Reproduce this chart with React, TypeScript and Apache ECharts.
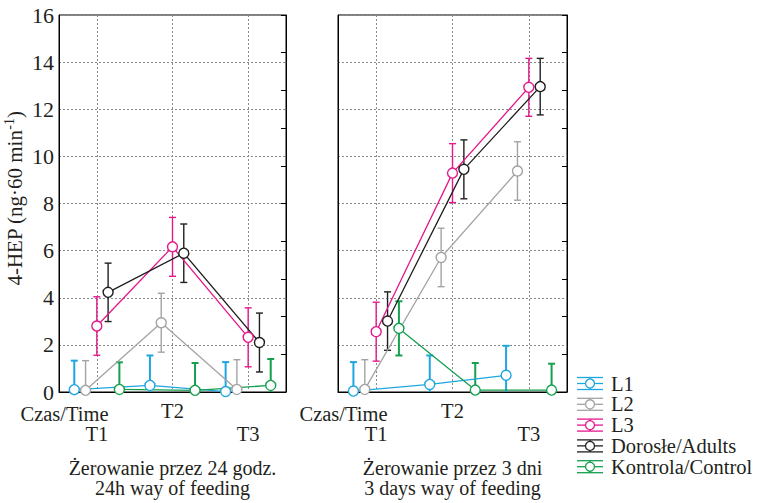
import React, { useEffect, useRef } from 'react';
import * as echarts from 'echarts';

// ---------- data ----------
const timeLabels = ['T1', 'T2', 'T3'];
const seriesNames = ['L1', 'L2', 'L3', 'Dorosłe/Adults', 'Kontrola/Control'];
const panelTitles = ['Żerowanie przez 24 godz.\n24h way of feeding', 'Żerowanie przez 3 dni\n3 days way of feeding'];
const timeAxisName = 'Czas/Time';
const yTitle = '4-HEP (ng·60 min{sup|-1})';

// 24 h feeding: means and error (half-length of the bars)
const h24L1 = [0.1, 0.28, 0.02];
const h24L1Err = [1.23, 1.27, 1.25];
const h24L2 = [0.07, 2.94, 0.11];
const h24L2Err = [1.26, 1.25, 1.26];
const h24L3 = [2.8, 6.16, 2.32];
const h24L3Err = [1.24, 1.25, 1.25];
const h24Adults = [4.23, 5.89, 2.1];
const h24AdultsErr = [1.24, 1.24, 1.25];
const h24Control = [0.11, 0.07, 0.28];
const h24ControlErr = [1.15, 1.16, 1.12];

// 3 days feeding
const d3L1 = [0.04, 0.32, 0.71];
const d3L1Err = [1.23, 1.23, 1.25];
const d3L2 = [0.11, 5.71, 9.38];
const d3L2Err = [1.26, 1.24, 1.24];
const d3L3 = [2.56, 9.29, 12.93];
const d3L3Err = [1.25, 1.25, 1.23];
const d3Adults = [3.01, 9.45, 12.96];
const d3AdultsErr = [1.24, 1.25, 1.2];
const d3Control = [2.7, 0.08, 0.08];
const d3ControlErr = [1.15, 1.15, 1.12];

// ---------- style ----------
const seriesColors = ['#1ea6e0', '#a3a3a3', '#e5178b', '#1f1f1f', '#14a04e'];
const barWidths = [2, 1.4, 1.4, 1.4, 2];
const FONT = 'Liberation Serif, Times New Roman, serif';
const TEXT = '#231f20';
const OFFSET = 0.149; // per-series horizontal dodge in category units

const grids = [
  { left: 59, top: 15, width: 227, height: 381 },
  { left: 338, top: 15, width: 229, height: 381 },
];

const panelValues = [
  [h24L1, h24L2, h24L3, h24Adults, h24Control],
  [d3L1, d3L2, d3L3, d3Adults, d3Control],
];
const panelErrs = [
  [h24L1Err, h24L2Err, h24L3Err, h24AdultsErr, h24ControlErr],
  [d3L1Err, d3L2Err, d3L3Err, d3AdultsErr, d3ControlErr],
];

function buildOption() {
  const gridLine = { show: true, lineStyle: { color: '#8a8a8a', type: [2, 2] as any, width: 1 } };
  const labelStyle = { fontSize: 20.5, fontFamily: FONT, color: TEXT };
  const xAxis: any[] = [];
  const yAxis: any[] = [];
  const series: any[] = [];
  const graphic: any[] = [];

  grids.forEach((g, p) => {
    // first label row (T2) + grid lines + panel title
    xAxis.push({
      type: 'category',
      gridIndex: p,
      position: 'bottom',
      data: timeLabels,
      boundaryGap: true,
      axisLine: { show: true, onZero: false, lineStyle: { color: '#000', width: 1 } },
      axisTick: { show: false },
      splitLine: { ...gridLine, alignWithLabel: true },
      axisLabel: {
        ...labelStyle,
        interval: 0,
        margin: 8,
        formatter: (v: string, i: number) => (i % 2 === 1 ? v : ''),
      },
      name: panelTitles[p],
      nameLocation: 'middle',
      nameGap: 66,
      nameTextStyle: { fontSize: 20, lineHeight: 20, fontFamily: FONT, color: TEXT },
    });
    // second label row (T1, T3)
    xAxis.push({
      type: 'category',
      gridIndex: p,
      position: 'bottom',
      offset: 0,
      data: timeLabels,
      boundaryGap: true,
      axisLine: { show: false, onZero: false },
      axisTick: { show: false },
      splitLine: { show: false },
      axisLabel: {
        ...labelStyle,
        interval: 0,
        margin: 31.5,
        formatter: (v: string, i: number) => (i % 2 === 0 ? v : ''),
      },
    });
    // hidden numeric axis used to place the dodged marks
    xAxis.push({ type: 'value', gridIndex: p, min: -0.5, max: 2.5, show: false, axisLine: { onZero: false } });

    yAxis.push({
      type: 'value',
      gridIndex: p,
      position: 'left',
      min: 0,
      max: 16,
      interval: 2,
      axisLine: { show: true, onZero: false, lineStyle: { color: '#000', width: 1 } },
      axisTick: { show: false },
      axisLabel: { show: p === 0, margin: 5, fontSize: 22, fontFamily: FONT, color: TEXT },
      splitLine: gridLine,
      ...(p === 0
        ? {
            name: yTitle,
            nameLocation: 'middle',
            nameRotate: 90,
            nameGap: 22,
            nameTextStyle: {
              fontSize: 21,
              lineHeight: 26,
              fontFamily: FONT,
              color: TEXT,
              padding: [0, 0, 0, 10],
              rich: { sup: { fontSize: 14, verticalAlign: 'top', lineHeight: 14, fontFamily: FONT, color: TEXT } },
            },
          }
        : {}),
    });
    yAxis.push({
      type: 'value',
      gridIndex: p,
      position: 'right',
      min: 0,
      max: 10,
      interval: 1,
      axisLine: { show: true, onZero: false, lineStyle: { color: '#000', width: 1 } },
      axisTick: { show: true, inside: true, length: 5, lineStyle: { color: '#000', width: 1 } },
      axisLabel: { show: false },
      splitLine: { show: false },
    });

    seriesNames.forEach((name, k) => {
      const color = seriesColors[k];
      const vals = panelValues[p][k];
      const errs = panelErrs[p][k];
      const data = timeLabels.map((_, i) => [i + (k - 2) * OFFSET, vals[i], errs[i]]);
      series.push({
        type: 'custom',
        name,
        xAxisIndex: p * 3 + 2,
        yAxisIndex: p * 2,
        clip: true,
        z: 2,
        encode: { x: 0, y: 1 },
        data,
        renderItem: (params: any, api: any) => {
          const x = api.value(0);
          const v = api.value(1);
          const e = api.value(2);
          const top = api.coord([x, v + e]);
          const bot = api.coord([x, v - e]);
          const hw = 3.5;
          const style = { stroke: color, lineWidth: barWidths[k] };
          return {
            type: 'group',
            children: [
              { type: 'line', shape: { x1: top[0], y1: top[1], x2: bot[0], y2: bot[1] }, style },
              { type: 'line', shape: { x1: top[0] - hw, y1: top[1], x2: top[0] + hw, y2: top[1] }, style },
              { type: 'line', shape: { x1: bot[0] - hw, y1: bot[1], x2: bot[0] + hw, y2: bot[1] }, style },
            ],
          };
        },
      });
      series.push({
        type: 'line',
        name,
        xAxisIndex: p * 3 + 2,
        yAxisIndex: p * 2,
        z: 3,
        data: data.map((d) => [d[0], d[1]]),
        symbol: 'circle',
        symbolSize: 10,
        showAllSymbol: true,
        lineStyle: { color, width: 1.3 },
        itemStyle: { color: '#fff', borderColor: color, borderWidth: 1.4 },
      });
    });

    graphic.push({
      type: 'text',
      x: g.left + 5.5,
      y: g.top + g.height + 18,
      style: { text: timeAxisName, fontSize: 20.5, fontFamily: FONT, fill: TEXT, align: 'center', verticalAlign: 'middle' },
    });
  });

  // legend
  const lx = 590;
  const ly0 = 383.5;
  const step = 20.8;
  seriesNames.forEach((name, k) => {
    const color = seriesColors[k];
    const cy = ly0 + k * step;
    const st = { stroke: color, lineWidth: 1.3 };
    graphic.push(
      { type: 'line', shape: { x1: lx - 13, y1: cy - 6, x2: lx + 13, y2: cy - 6 }, style: st },
      { type: 'line', shape: { x1: lx - 13, y1: cy + 6, x2: lx + 13, y2: cy + 6 }, style: st },
      { type: 'line', shape: { x1: lx - 13, y1: cy, x2: lx + 13, y2: cy }, style: st },
      { type: 'line', shape: { x1: lx, y1: cy - 6, x2: lx, y2: cy + 6 }, style: st },
      { type: 'circle', shape: { cx: lx, cy, r: 4.5 }, style: { fill: '#fff', stroke: color, lineWidth: 1.3 } },
      {
        type: 'text',
        x: 611,
        y: cy,
        style: { text: name, fontSize: 20.5, fontFamily: FONT, fill: TEXT, align: 'left', verticalAlign: 'middle' },
      }
    );
  });

  return {
    animation: false,
    backgroundColor: '#fff',
    grid: grids.map((g) => ({ ...g, show: true, borderColor: '#000', borderWidth: 1, backgroundColor: 'transparent' })),
    xAxis,
    yAxis,
    series,
    graphic,
  };
}

export default function App() {
  const ref = useRef<HTMLDivElement>(null);
  useEffect(() => {
    if (!ref.current) return;
    const chart = echarts.init(ref.current, null, { renderer: 'svg' });
    chart.setOption(buildOption() as any);
    return () => chart.dispose();
  }, []);
  return (
    <div
      ref={ref}
      style={{ position: 'fixed', left: 0, top: 0, width: 757, height: 503, background: '#fff' }}
    />
  );
}
